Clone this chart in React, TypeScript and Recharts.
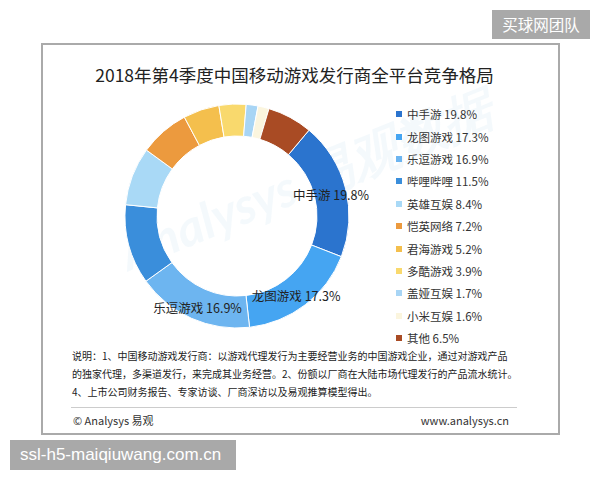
import React from 'react';
import { PieChart, Pie, Cell, Legend } from 'recharts';

const names = ['中手游', '龙图游戏', '乐逗游戏', '哔哩哔哩', '英雄互娱', '恺英网络', '君海游戏', '多酷游戏', '盖娅互娱', '小米互娱', '其他'];
const shares = [19.8, 17.3, 16.9, 11.5, 8.4, 7.2, 5.2, 3.9, 1.7, 1.6, 6.5];
const colors = ['#2B74CE', '#45A5F2', '#6DB5F0', '#3A8EDB', '#A9D9F6', '#EC9A3E', '#F4BF4D', '#F9D96D', '#A8D5F5', '#FBF5DE', '#A94B24'];
const labelCount = 3;

const titleText = '2018年第4季度中国移动游戏发行商全平台竞争格局';
const noteLines = [
  '说明：1、中国移动游戏发行商：以游戏代理发行为主要经营业务的中国游戏企业，通过对游戏产品',
  '的独家代理，多渠道发行，来完成其业务经营。2、份额以厂商在大陆市场代理发行的产品流水统计。',
  '4、上市公司财务报告、专家访谈、厂商深访以及易观推算模型得出。',
];
const footerLeft = '© Analysys 易观';
const footerRight = 'www.analysys.cn';
const badgeTop = '买球网团队';
const badgeBottom = 'ssl-h5-maiqiuwang.com.cn';

const data = names.map((n, i) => ({ name: n, value: shares[i] }));

const FONT = '"Noto Sans CJK SC", "Noto Sans", sans-serif';
const RADIAN = Math.PI / 180;

const renderLabel = (props: any) => {
  const { cx, cy, midAngle, index, name, value } = props;
  if (index >= labelCount) return null;
  const r = 97;
  const x = cx + r * Math.cos(-midAngle * RADIAN);
  const y = cy + r * Math.sin(-midAngle * RADIAN) + 3;
  return (
    <text x={x} y={y} textAnchor="middle" dominantBaseline="central" fontSize={12.5} fill="#222" fontFamily={FONT}>
      {`${name} ${value}%`}
    </text>
  );
};

const renderLegend = (props: any) => {
  const payload: any[] = props.payload || [];
  return (
    <div style={{ fontFamily: FONT }}>
      {names.map((n, i) => {
        const entry = payload.find((p: any) => p.value === n);
        const c = (entry && entry.color) || colors[i];
        return (
          <div key={n} style={{ height: 22.4, display: 'flex', alignItems: 'center', whiteSpace: 'nowrap' }}>
            <span style={{ display: 'inline-block', width: 6, height: 6, background: c, marginRight: 5 }} />
            <span style={{ fontSize: 11.5, color: '#333' }}>{`${n} ${shares[i]}%`}</span>
          </div>
        );
      })}
    </div>
  );
};

export default function App() {
  return (
    <div style={{ position: 'absolute', left: 0, top: 0, width: 600, height: 480, background: '#fff', overflow: 'hidden', fontFamily: FONT }}>
      <div style={{ position: 'absolute', left: 41, top: 43, width: 519, height: 392, border: '2px solid #aaa', boxSizing: 'border-box' }} />
      <div style={{ position: 'absolute', left: 0, top: 62, width: 589, textAlign: 'center', fontSize: 17.5, color: '#222', lineHeight: '26px', whiteSpace: 'nowrap' }}>
        {titleText}
      </div>
      <div style={{ position: 'absolute', left: 110, top: 225, fontSize: 50, fontWeight: 700, fontStyle: 'italic', color: 'rgba(110,175,220,0.08)', transform: 'rotate(-22deg)', transformOrigin: 'left top', whiteSpace: 'nowrap', fontFamily: 'Lato, sans-serif' }}>
        Analysys 易观数据
      </div>
      <div style={{ position: 'absolute', left: 0, top: 0 }}>
        <PieChart width={600} height={480} margin={{ top: 0, right: 0, bottom: 0, left: 0 }}>
          <Pie
            data={data}
            dataKey="value"
            nameKey="name"
            cx={237}
            cy={216}
            innerRadius={80}
            outerRadius={112}
            startAngle={50}
            endAngle={-310}
            stroke="#fff"
            strokeWidth={1}
            label={renderLabel}
            labelLine={false}
            isAnimationActive={false}
          >
            {data.map((d, i) => (
              <Cell key={d.name} fill={colors[i]} />
            ))}
          </Pie>
          <Legend
            layout="vertical"
            verticalAlign="top"
            align="right"
            content={renderLegend}
            wrapperStyle={{ left: 396, right: 'auto', top: 103, width: 150 }}
          />
        </PieChart>
      </div>
      <div style={{ position: 'absolute', left: 72, top: 347, fontSize: 10, color: '#222', lineHeight: '18px', whiteSpace: 'nowrap' }}>
        {noteLines.map((l, i) => (
          <div key={i}>{l}</div>
        ))}
      </div>
      <div style={{ position: 'absolute', left: 71, top: 407, width: 446, height: 1, background: '#ccc' }} />
      <div style={{ position: 'absolute', left: 73, top: 412, fontSize: 11, color: '#333', lineHeight: '16px', whiteSpace: 'nowrap' }}>{footerLeft}</div>
      <div style={{ position: 'absolute', right: 600 - 509, top: 412, fontSize: 11, color: '#333', lineHeight: '16px', whiteSpace: 'nowrap' }}>{footerRight}</div>
      <div style={{ position: 'absolute', left: 492, top: 10, width: 98, height: 29, background: '#a9a9a9', color: '#fff', fontSize: 15.5, lineHeight: '29px', textAlign: 'center', whiteSpace: 'nowrap' }}>{badgeTop}</div>
      <div style={{ position: 'absolute', left: 10, top: 440, width: 226, height: 30, background: '#a9a9a9', color: '#fff', fontSize: 17, lineHeight: '30px', paddingLeft: 10, boxSizing: 'border-box', whiteSpace: 'nowrap', fontFamily: '"Liberation Sans", Arial, sans-serif' }}>{badgeBottom}</div>
    </div>
  );
}
